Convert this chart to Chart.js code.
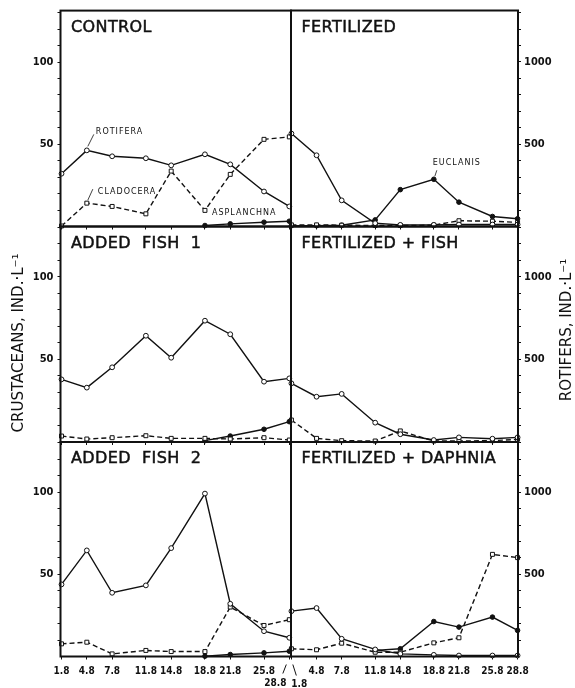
<!DOCTYPE html>
<html>
<head>
<meta charset="utf-8">
<script src="https://cdn.jsdelivr.net/npm/chart.js@4/dist/chart.umd.min.js"></script>
<style>
  body { margin: 0; background: #fff; }
  #wrap { position: relative; width: 575px; height: 688px; }
  #wrap canvas { position: absolute; left: 0; top: 0; }
</style>
</head>
<body>
<div id="wrap">
  <canvas id="p0" width="575" height="688"></canvas>
  <canvas id="p1" width="575" height="688"></canvas>
  <canvas id="p2" width="575" height="688"></canvas>
  <canvas id="p3" width="575" height="688"></canvas>
  <canvas id="p4" width="575" height="688"></canvas>
  <canvas id="p5" width="575" height="688"></canvas>
</div>
<script>
// sampling days (August), tick labels
var days = [1, 4, 7, 11, 14, 18, 21, 25, 28];
var dayLabels = ['1.8', '4.8', '7.8', '11.8', '14.8', '18.8', '21.8', '25.8', '28.8'];
var crustTicks = [10, 20, 30, 40, 50, 60, 70, 80, 90, 100, 110, 120, 130];
var rotTicks = [100, 200, 300, 400, 500, 600, 700, 800, 900, 1000, 1100, 1200, 1300];

// rotifers in ind/L, crustaceans (cladocera) in ind/L
var controlRotifera = [321, 463, 427, 415, 372, 439, 378, 213, 122];
var controlCladocera = [0.3, 14.2, 12.2, 7.7, 33.7, 9.8, 31.7, 53, 54.5];
var controlAsplanchna = [null, null, null, null, null, 6, 16, 26, 32];

var fertRotifera = [565, 433, 159, 20, 10, 10, 12, 12, 12];
var fertCladocera = [1, 1, 0.8, 0.6, 0.6, 0.8, 3.5, 3.2, 2.5];
var fertEuclanis = [5, 5, 8, 40, 224, 287, 148, 61, 47];

var fish1Rotifera = [379, 329, 452, 643, 510, 734, 652, 365, 385];
var fish1Cladocera = [3.6, 1.8, 2.6, 3.8, 2.2, 2.2, 1.8, 2.6, 1.2];
var fish1Asplanchna = [null, null, null, null, null, 8, 36, 77, 123];

var fertFishRotifera = [355, 274, 291, 117, 47, 12, 28, 20, 28];
var fertFishCladocera = [13.3, 2.2, 0.8, 0.6, 6.7, 0.6, 0.6, 0.8, 1.6];

var fish2Rotifera = [439, 646, 388, 433, 660, 992, 321, 154, 114];
var fish2Cladocera = [7.7, 8.7, 1.6, 3.7, 3.0, 3.0, 30.1, 18.9, 22.4];
var fish2Asplanchna = [null, null, null, null, null, 2, 12, 22, 32];

var fertDaphRotifera = [276, 295, 108, 43, 16, 10, 6, 6, 6];
var fertDaphCladocera = [4.7, 4.1, 8.1, 2.6, 2.6, 8.3, 11.4, 62.2, 60.2];
var fertDaphEuclanis = [null, null, null, 37, 47, 213, 179, 240, 159];

var INK = '#111';
var rows = [[10.5, 226.5, 131.3], [226.5, 442, 130.4], [442, 656.5, 130.6]];
var AXW = 30;    // reserved width for left tick labels
var AXWR = 45;   // reserved width for right tick labels
var AXH = 22;    // reserved height for the bottom tick labels

var panelPlugin = {
  id: 'panel',
  afterDatasetsDraw: function (chart, args, opts) {
    var a = chart.chartArea, ctx = chart.ctx;
    ctx.save();
    ctx.strokeStyle = INK;
    ctx.lineWidth = 2;
    ctx.strokeRect(a.left, a.top, a.right - a.left, a.bottom - a.top);
    ctx.fillStyle = INK;
    ctx.textBaseline = 'middle';
    ctx.font = '16px "DejaVu Sans"';
    ctx.letterSpacing = '0.4px';
    ctx.lineWidth = 0.5;
    ctx.fillText(opts.title, a.left + 10.5, a.top + 17);
    ctx.strokeText(opts.title, a.left + 10.5, a.top + 17);

    // series annotations
    ctx.font = '8px "DejaVu Sans"';
    ctx.letterSpacing = '1px';
    ctx.lineWidth = 0.8;
    (opts.notes || []).forEach(function (n) {
      var pt = chart.getDatasetMeta(n.ds).data[n.idx];
      ctx.fillText(n.text, pt.x + n.tx, pt.y + n.ty);
      if (n.lead) {
        ctx.beginPath();
        ctx.moveTo(pt.x + n.lead[0], pt.y + n.lead[1]);
        ctx.lineTo(pt.x + n.lead[2], pt.y + n.lead[3]);
        ctx.stroke();
      }
    });
    ctx.letterSpacing = '0px';

    // rotated axis titles
    if (opts.sideTitle) {
      ctx.font = '15px "DejaVu Sans"';
      ctx.textAlign = 'center';
      ctx.translate(opts.sideTitle.x, opts.sideTitle.y);
      ctx.rotate(-Math.PI / 2);
      ctx.fillText(opts.sideTitle.text, 0, 0);
      ctx.setTransform(1, 0, 0, 1, 0, 0);
    }

    // staggered labels for 28.8 / 1.8 at the middle
    if (opts.splitLabels) {
      var x = chart.scales.x;
      var bx = x.getPixelForValue(28);
      ctx.font = 'bold 10px "Liberation Sans Narrow", "DejaVu Sans Condensed", sans-serif';
      ctx.textAlign = 'center';
      ctx.textBaseline = 'middle';
      ctx.fillText('28.8', bx - 14, a.bottom + 27);
      ctx.fillText('1.8', bx + 10, a.bottom + 28);
      ctx.lineWidth = 1;
      ctx.beginPath();
      ctx.moveTo(bx - 3, a.bottom + 8); ctx.lineTo(bx - 6.5, a.bottom + 17);
      ctx.moveTo(bx + 3.5, a.bottom + 8); ctx.lineTo(bx + 7, a.bottom + 19);
      ctx.stroke();
    }
    ctx.restore();
  }
};
Chart.register(panelPlugin);

function series(values, kind, axis) {
  var ds = {
    data: values.map(function (v, i) { return { x: days[i], y: v }; }),
    yAxisID: axis,
    borderColor: INK,
    borderWidth: 1.4,
    pointBorderColor: INK,
    pointBorderWidth: 1,
    pointRadius: 2.4,
    pointBackgroundColor: '#fff',
    pointStyle: 'circle',
    spanGaps: false,
    clip: 6
  };
  if (kind === 'square') {
    ds.borderDash = [5, 3];
    ds.pointStyle = 'rect';
    ds.pointRadius = 2.8;
  }
  if (kind === 'filled') {
    ds.pointBackgroundColor = INK;
    ds.pointRadius = 2.3;
  }
  return ds;
}

function makePanel(id, side, row, title, rot, clad, filled, extra) {
  var r = rows[row];
  var isLeft = side === 'left';
  var bottomRow = row === 2;
  var xFont = { family: '"Liberation Sans Narrow", "DejaVu Sans Condensed", sans-serif', size: 10, weight: 'bold' };
  var yFont = { family: '"DejaVu Sans Condensed", "DejaVu Sans", sans-serif', size: 11, weight: 'bold' };
  var datasets = [series(rot, 'circle', 'y1'), series(clad, 'square', 'y')];
  if (filled) datasets.push(series(filled, 'filled', 'y1'));

  var pluginOpts = { title: title };
  for (var k in extra) pluginOpts[k] = extra[k];

  new Chart(document.getElementById(id), {
    type: 'line',
    data: { datasets: datasets },
    options: {
      responsive: false,
      animation: false,
      events: [],
      layout: {
        padding: {
          left: isLeft ? 60.5 - AXW : 291,
          right: isLeft ? 575 - 291 : 575 - 518 - AXWR,
          top: r[0],
          bottom: 688 - r[1] - (bottomRow ? AXH : 0)
        }
      },
      plugins: { legend: { display: false }, tooltip: { enabled: false }, panel: pluginOpts },
      scales: {
        x: {
          type: 'linear',
          min: isLeft ? 0.88 : 0.95,
          max: isLeft ? 28.2 : 28.05,
          afterBuildTicks: function (s) { s.ticks = days.map(function (d) { return { value: d }; }); },
          afterFit: function (s) { s.height = bottomRow ? AXH : 0; },
          border: { display: false },
          grid: { drawOnChartArea: false, tickLength: 3, color: INK, lineWidth: 1 },
          ticks: {
            display: bottomRow,
            autoSkip: false,
            maxRotation: 0,
            padding: 6,
            color: INK,
            font: xFont,
            callback: function (v) {
              if (isLeft && v === 28) return '';
              if (!isLeft && v === 1) return '';
              return dayLabels[days.indexOf(v)];
            }
          }
        },
        y: {
          display: isLeft,
          position: 'left',
          min: 0,
          max: r[2],
          afterBuildTicks: function (s) { s.ticks = crustTicks.map(function (t) { return { value: t }; }); },
          afterFit: function (s) { s.width = isLeft ? AXW : 0; },
          border: { display: false },
          grid: { drawOnChartArea: false, tickLength: 3, color: INK, lineWidth: 1 },
          ticks: {
            padding: 4,
            color: INK,
            font: yFont,
            callback: function (v) { return (v === 50 || v === 100) ? String(v) : ''; }
          }
        },
        y1: {
          display: !isLeft,
          position: 'right',
          min: 0,
          max: r[2] * 10,
          afterBuildTicks: function (s) { s.ticks = rotTicks.map(function (t) { return { value: t }; }); },
          afterFit: function (s) { s.width = isLeft ? 0 : AXWR; },
          border: { display: false },
          grid: { drawOnChartArea: false, tickLength: 3, color: INK, lineWidth: 1 },
          ticks: {
            padding: 3,
            color: INK,
            font: yFont,
            callback: function (v) { return (v === 500 || v === 1000) ? String(v) : ''; }
          }
        }
      }
    }
  });
}

makePanel('p0', 'left', 0, 'CONTROL', controlRotifera, controlCladocera, controlAsplanchna, {
  notes: [
    { text: 'ROTIFERA', ds: 0, idx: 1, tx: 9, ty: -18, lead: [7, -16, 1, -4] },
    { text: 'CLADOCERA', ds: 1, idx: 1, tx: 11, ty: -11, lead: [6, -14, 1, -3] },
    { text: 'ASPLANCHNA', ds: 2, idx: 5, tx: 7, ty: -13 }
  ]
});
makePanel('p1', 'right', 0, 'FERTILIZED', fertRotifera, fertCladocera, fertEuclanis, {
  notes: [
    { text: 'EUCLANIS', ds: 2, idx: 5, tx: -1, ty: -16, lead: [3, -9, 1, -3] }
  ]
});
makePanel('p2', 'left', 1, 'ADDED  FISH  1', fish1Rotifera, fish1Cladocera, fish1Asplanchna, {
  sideTitle: { text: 'CRUSTACEANS, IND.\u00b7L\u207b\u00b9', x: 19, y: 343 }
});
makePanel('p3', 'right', 1, 'FERTILIZED + FISH', fertFishRotifera, fertFishCladocera, null, {
  sideTitle: { text: 'ROTIFERS, IND.\u00b7L\u207b\u00b9', x: 567, y: 330 }
});
makePanel('p4', 'left', 2, 'ADDED  FISH  2', fish2Rotifera, fish2Cladocera, fish2Asplanchna, {
  splitLabels: true
});
makePanel('p5', 'right', 2, 'FERTILIZED + DAPHNIA', fertDaphRotifera, fertDaphCladocera, fertDaphEuclanis, {});
</script>
</body>
</html>
